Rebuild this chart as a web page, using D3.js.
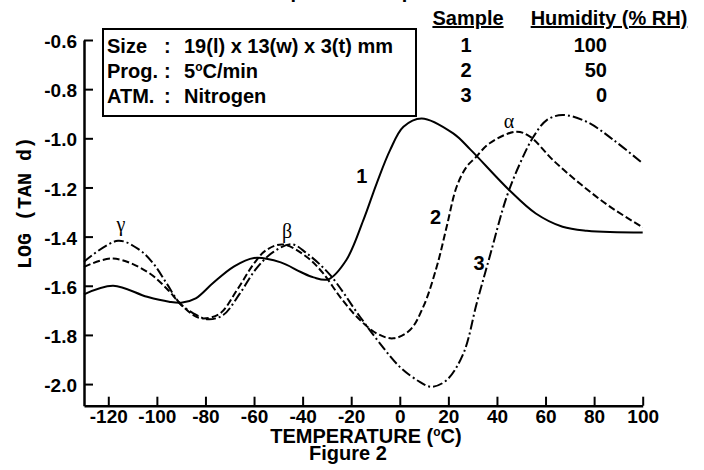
<!DOCTYPE html>
<meta charset="utf-8">
<title>Figure 2</title>
<style>
body { margin: 0; background: #fff; }
svg { display: block; }
text { font-family: "Liberation Sans", Arial, sans-serif; font-weight: bold; fill: #000; }
.axis path, .axis line { stroke: #000; }
.axis path { stroke-width: 2.5px; }
.axis line { stroke-width: 2px; }
.axis text { font-size: 19px; font-family: "Liberation Sans", Arial, sans-serif; font-weight: bold; }
.curve { fill: none; stroke: #000; stroke-width: 2px; }
.greek { font-family: "Liberation Serif", "Times New Roman", serif; font-weight: normal; font-size: 20px; }
</style>
<svg width="704" height="470"></svg>
<script src="https://d3js.org/d3.v7.min.js"></script>
<script>

// temperature ticks and log(tan d) ticks
var xTicks = [-120, -100, -80, -60, -40, -20, 0, 20, 40, 60, 80, 100];
var yTicks = [-2.0, -1.8, -1.6, -1.4, -1.2, -1.0, -0.8, -0.6];

// sample 1 (100 %RH) - solid
var temp1 = [-130, -118, -104, -95, -90, -84, -77, -68.5, -60, -49, -41, -35.5, -29.5, -22, -15, -9.5, -4, 1.5, 9, 22, 29, 45, 56, 67, 77, 100];
var tan1  = [-1.635, -1.600, -1.645, -1.665, -1.669, -1.651, -1.590, -1.523, -1.487, -1.505, -1.543, -1.566, -1.574, -1.495, -1.333, -1.183, -1.048, -0.953, -0.919, -0.980, -1.045, -1.21, -1.306, -1.36, -1.376, -1.383];

// sample 2 (50 %RH) - dashed
var temp2 = [-130, -118, -104, -96, -90.5, -85, -81, -74, -67, -60, -55, -48, -38, -31.5, -24.6, -17.7, -9.5, -2.7, 4.2, 9.7, 15.2, 19.3, 23.4, 27.5, 31, 37, 48, 53.6, 63, 74, 86.5, 100];
var tan2  = [-1.523, -1.489, -1.543, -1.611, -1.672, -1.719, -1.733, -1.713, -1.617, -1.509, -1.455, -1.432, -1.485, -1.55, -1.645, -1.726, -1.794, -1.814, -1.780, -1.685, -1.523, -1.360, -1.197, -1.116, -1.080, -1.020, -0.973, -0.993, -1.088, -1.183, -1.278, -1.362];

// sample 3 (0 %RH) - dash-dot
var temp3 = [-130, -116, -107, -101.5, -96, -90.5, -85, -79, -72.7, -65.8, -59, -52, -44.5, -38.3, -28.7, -16.4, -8.2, 0, 8.2, 13, 19.3, 26.2, 31.7, 37, 44, 49.5, 55, 60.5, 67, 77, 88, 100];
var tan3  = [-1.502, -1.417, -1.455, -1.509, -1.590, -1.672, -1.712, -1.736, -1.719, -1.631, -1.529, -1.462, -1.431, -1.468, -1.556, -1.726, -1.834, -1.930, -1.991, -2.011, -1.984, -1.875, -1.67, -1.482, -1.238, -1.102, -0.994, -0.926, -0.905, -0.933, -1.007, -1.102];

var sampleIds = ["1", "2", "3"];
var humidity = ["100", "50", "0"];

var infoLabels = ["Size", "Prog.", "ATM."];
var infoValues = ["19(l) x 13(w) x 3(t) mm", "5\u00B0C/min", "Nitrogen"];

var svg = d3.select("svg");

var x = d3.scaleLinear().domain([-130, 100]).range([84, 642.7]);
var y = d3.scaleLinear().domain([-2.088, -0.6]).range([405.7, 40]);

// title, mostly cut off by the top edge in the original
svg.append("text")
  .attr("x", 373).attr("y", -2)
  .attr("text-anchor", "middle")
  .style("font-size", "20px")
  .text("Temperature Dependence");

// axes
var xAxis = svg.append("g")
  .attr("class", "axis")
  .attr("transform", "translate(0," + y.range()[0] + ")")
  .call(d3.axisBottom(x).tickValues(xTicks).tickSize(-9).tickSizeOuter(0).tickPadding(4)
    .tickFormat(function(d) { return String(d); }));

var yAxis = svg.append("g")
  .attr("class", "axis")
  .attr("transform", "translate(" + x.range()[0] + ",0)")
  .call(d3.axisLeft(y).tickValues(yTicks).tickSize(-9).tickSizeOuter(0).tickPadding(7)
    .tickFormat(function(d) { return d.toFixed(1); }));
yAxis.selectAll("text").attr("dy", "0.4em");

// axis titles
svg.append("text")
  .attr("x", 366).attr("y", 443)
  .attr("text-anchor", "middle")
  .style("font-size", "20px")
  .html('TEMPERATURE (<tspan font-size="12px" dy="-7">o</tspan><tspan dy="7">C)</tspan>');

svg.append("text")
  .attr("x", 348).attr("y", 460)
  .attr("text-anchor", "middle")
  .style("font-size", "20px")
  .text("Figure 2");

svg.append("text")
  .attr("transform", "translate(31,203) rotate(-90)")
  .attr("text-anchor", "middle")
  .style("font-family", "'Liberation Mono', 'Courier New', monospace")
  .style("font-size", "20px")
  .text("LOG (TAN d)");

// curves
var line = d3.line()
  .x(function(d) { return x(d[0]); })
  .y(function(d) { return y(d[1]); })
  .curve(d3.curveCatmullRom.alpha(0.5));

var series = [
  { t: temp1, v: tan1, dash: null },
  { t: temp2, v: tan2, dash: "7,3" },
  { t: temp3, v: tan3, dash: "10,3,2,3" }
];

svg.selectAll(".curve")
  .data(series)
  .enter().append("path")
    .attr("class", "curve")
    .attr("stroke-dasharray", function(d) { return d.dash; })
    .attr("d", function(d) { return line(d3.zip(d.t, d.v)); });

// curve labels
var curveLabels = [
  { t: -15.6, v: -1.182, s: "1" },
  { t: 14.7, v: -1.349, s: "2" },
  { t: 32.6, v: -1.536, s: "3" }
];
svg.selectAll(".clabel")
  .data(curveLabels)
  .enter().append("text")
    .attr("class", "clabel")
    .attr("x", function(d) { return x(d.t); })
    .attr("y", function(d) { return y(d.v); })
    .attr("text-anchor", "middle")
    .style("font-size", "20px")
    .text(function(d) { return d.s; });

var peakLabels = [
  { t: -114.8, v: -1.377, s: "\u03B3" },
  { t: -46.4, v: -1.406, s: "\u03B2" },
  { t: 45, v: -0.958, s: "\u03B1" }
];
svg.selectAll(".greek")
  .data(peakLabels)
  .enter().append("text")
    .attr("class", "greek")
    .attr("x", function(d) { return x(d.t); })
    .attr("y", function(d) { return y(d.v); })
    .attr("text-anchor", "middle")
    .text(function(d) { return d.s; });

// info box
svg.append("rect")
  .attr("x", 103).attr("y", 29)
  .attr("width", 313).attr("height", 87)
  .attr("fill", "#fff").attr("stroke", "#000").attr("stroke-width", 2);

var info = svg.selectAll(".info")
  .data(infoLabels)
  .enter().append("g")
    .attr("class", "info")
    .attr("transform", function(d, i) { return "translate(0," + (53 + i * 25) + ")"; });
info.append("text").attr("x", 107).style("font-size", "20px").text(function(d) { return d; });
info.append("text").attr("x", 164).style("font-size", "20px").text(":");
info.append("text").attr("x", 184).style("font-size", "20px")
  .each(function(d, i) {
    var t = d3.select(this);
    if (i === 1) {
      t.append("tspan").text("5");
      t.append("tspan").attr("font-size", "12px").attr("dy", -7).text("o");
      t.append("tspan").attr("dy", 7).text("C/min");
    } else {
      t.text(infoValues[i]);
    }
  });

// sample / humidity table
svg.append("text")
  .attr("x", 468).attr("y", 25)
  .attr("text-anchor", "middle")
  .attr("text-decoration", "underline")
  .style("font-size", "20px")
  .text("Sample");
svg.append("text")
  .attr("x", 609).attr("y", 25)
  .attr("text-anchor", "middle")
  .attr("text-decoration", "underline")
  .style("font-size", "20px")
  .text("Humidity (% RH)");

var rows = svg.selectAll(".row")
  .data(sampleIds)
  .enter().append("g")
    .attr("class", "row")
    .attr("transform", function(d, i) { return "translate(0," + (52 + i * 25) + ")"; });
rows.append("text").attr("x", 466).attr("text-anchor", "middle").style("font-size", "20px")
  .text(function(d) { return d; });
rows.append("text").attr("x", 607).attr("text-anchor", "end").style("font-size", "20px")
  .text(function(d, i) { return humidity[i]; });

</script>
